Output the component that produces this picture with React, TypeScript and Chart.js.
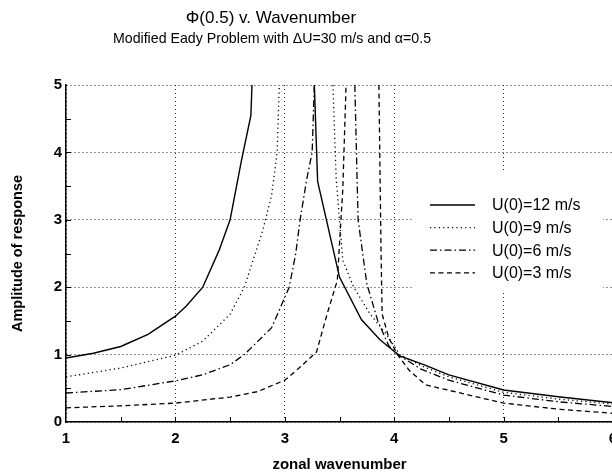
import React, { useEffect, useRef } from "react";
import { Chart, registerables } from "chart.js";

Chart.register(...registerables);

const titleText = "Φ(0.5) v. Wavenumber";
const subtitleText = "Modified Eady Problem with ΔU=30 m/s and α=0.5";
const xAxisTitle = "zonal wavenumber";
const yAxisTitle = "Amplitude of response";

const seriesLabels = ["U(0)=12 m/s", "U(0)=9 m/s", "U(0)=6 m/s", "U(0)=3 m/s"];

// U(0)=12 m/s (null = curve leaves the plot above 5)
const k12 = [1, 1.25, 1.5, 1.75, 2, 2.1, 2.25, 2.4, 2.5, 2.6, 2.69, 2.7, 3.0, 3.27, 3.3, 3.5, 3.7, 3.87, 4.05, 4.27, 4.5, 5, 5.5, 6];
const amp12 = [0.95, 1.02, 1.12, 1.3, 1.57, 1.72, 2.0, 2.55, 3.0, 3.85, 4.55, 5, null, 5, 3.57, 2.15, 1.52, 1.22, 0.98, 0.85, 0.7, 0.475, 0.375, 0.285];

// U(0)=9 m/s
const k9 = [1, 1.5, 2, 2.25, 2.5, 2.63, 2.8, 2.88, 2.93, 2.95, 3.2, 3.44, 3.47, 3.5, 3.53, 3.63, 3.78, 3.93, 4.05, 4.27, 4.5, 5, 5.5, 6];
const amp9 = [0.67, 0.8, 0.99, 1.2, 1.6, 2.0, 2.85, 3.37, 4.0, 5, null, 5, 3.6, 3.0, 2.4, 2.0, 1.6, 1.3, 1.0, 0.82, 0.67, 0.44, 0.34, 0.265];

// U(0)=6 m/s
const k6 = [1, 1.5, 2, 2.25, 2.5, 2.63, 2.88, 3.04, 3.1, 3.14, 3.2, 3.25, 3.27, 3.45, 3.64, 3.67, 3.75, 3.85, 3.95, 4.05, 4.25, 4.5, 5, 5.5, 6];
const amp6 = [0.43, 0.48, 0.61, 0.7, 0.85, 1.0, 1.4, 2.0, 2.5, 3.0, 3.6, 4.0, 5, null, 5, 3.0, 2.05, 1.5, 1.13, 0.98, 0.78, 0.62, 0.4, 0.3, 0.23];

// U(0)=3 m/s
const k3 = [1, 1.5, 2, 2.5, 2.75, 3.0, 3.13, 3.29, 3.39, 3.48, 3.53, 3.56, 3.7, 3.86, 3.88, 3.89, 3.95, 4.03, 4.14, 4.29, 4.5, 5, 5.5, 6];
const amp3 = [0.21, 0.24, 0.28, 0.37, 0.45, 0.62, 0.8, 1.04, 1.62, 2.1, 3.45, 5, null, 5, 2.5, 1.6, 1.25, 1.0, 0.76, 0.55, 0.47, 0.28, 0.19, 0.13];

const xTicks = { min: 1, max: 6, step: 1 };
const yTicks = { min: 0, max: 5, step: 1 };
const xMinorTicks = [1.5, 2, 2.5, 3, 3.5, 4, 4.5, 5, 5.5];
const yMinorTicks = [0.5, 1, 1.5, 2, 2.5, 3, 3.5, 4, 4.5];

const FONT = "'Liberation Sans', Arial, Helvetica, sans-serif";

const toPoints = (xs: number[], ys: (number | null)[]) =>
  xs.map((x, i) => ({ x, y: ys[i] }));

const dashes = [[], [1.2, 3.2], [7, 3, 1.5, 3], [5, 3.5]];

export default function App() {
  const ref = useRef<HTMLCanvasElement | null>(null);

  useEffect(() => {
    if (!ref.current) return;
    const series = [
      toPoints(k12, amp12),
      toPoints(k9, amp9),
      toPoints(k6, amp6),
      toPoints(k3, amp3),
    ];

    const overlay = {
      id: "overlay",
      afterDraw(chart: any) {
        const ctx = chart.ctx;
        const xs = chart.scales.x;
        const ys = chart.scales.y;
        const area = chart.chartArea;
        ctx.save();
        // minor inward ticks
        ctx.strokeStyle = "#000";
        ctx.lineWidth = 1;
        ctx.setLineDash([]);
        ctx.beginPath();
        xMinorTicks.forEach((v) => {
          const px = Math.round(xs.getPixelForValue(v)) + 0.5;
          ctx.moveTo(px, area.bottom);
          ctx.lineTo(px, area.bottom - 5);
        });
        yMinorTicks.forEach((v) => {
          const py = Math.round(ys.getPixelForValue(v)) + 0.5;
          ctx.moveTo(area.left, py);
          ctx.lineTo(area.left + 5, py);
        });
        ctx.stroke();

        // titles
        ctx.fillStyle = "#000";
        ctx.textAlign = "center";
        ctx.textBaseline = "middle";
        ctx.font = `17px ${FONT}`;
        ctx.fillText(titleText, 271, 18);
        ctx.font = `14.2px ${FONT}`;
        ctx.fillText(subtitleText, 272, 39);

        // legend box (white background hides the grid)
        ctx.fillStyle = "#fff";
        ctx.fillRect(412, 172, 191, 120);
        ctx.fillStyle = "#000";
        chart.data.datasets.forEach((ds: any, i: number) => {
          const y = 205 + i * 22.6;
          ctx.save();
          ctx.strokeStyle = "#000";
          ctx.lineWidth = ds.borderWidth;
          ctx.setLineDash(ds.borderDash || []);
          ctx.beginPath();
          ctx.moveTo(430, y);
          ctx.lineTo(475, y);
          ctx.stroke();
          ctx.restore();
          ctx.textAlign = "left";
          ctx.font = `16px ${FONT}`;
          ctx.fillText(ds.label, 492, y + 1);
        });
        ctx.restore();
      },
    };

    const chart = new Chart(ref.current, {
      type: "line",
      data: {
        datasets: series.map((pts, i) => ({
          label: seriesLabels[i],
          data: pts,
          borderColor: "#000",
          borderWidth: i === 0 ? 1.4 : 1.3,
          borderDash: dashes[i],
          pointRadius: 0,
          tension: 0,
          fill: false,
          spanGaps: false,
        })),
      },
      options: {
        responsive: false,
        devicePixelRatio: 1,
        animation: false,
        layout: { padding: { top: 85, right: 17, left: 0, bottom: 0 } },
        plugins: {
          legend: { display: false },
          title: { display: false },
          tooltip: { enabled: false },
        },
        scales: {
          x: {
            type: "linear",
            min: xTicks.min,
            max: xTicks.max,
            afterFit: (s: any) => {
              s.height = 51;
            },
            ticks: {
              stepSize: xTicks.step,
              color: "#000",
              padding: 8,
              font: { family: FONT, size: 15, weight: "bold" },
            },
            grid: { color: "rgba(0,0,0,0.85)", lineWidth: 1, drawTicks: false },
            border: { display: true, color: "#000", width: 1.5, dash: [1, 3] },
            title: {
              display: true,
              text: xAxisTitle,
              color: "#000",
              font: { family: FONT, size: 15, weight: "bold", lineHeight: 1.1 },
              padding: { top: 0, bottom: 0 },
            },
          },
          y: {
            type: "linear",
            min: yTicks.min,
            max: yTicks.max,
            afterFit: (s: any) => {
              s.width = 66;
            },
            ticks: {
              stepSize: yTicks.step,
              color: "#000",
              padding: 4,
              font: { family: FONT, size: 15, weight: "bold" },
            },
            grid: { color: "rgba(0,0,0,0.85)", lineWidth: 1, drawTicks: false },
            border: { display: true, color: "#000", width: 1.5, dash: [1, 3] },
            title: {
              display: true,
              text: yAxisTitle,
              color: "#000",
              font: { family: FONT, size: 14.5, weight: "bold", lineHeight: 1.2 },
              padding: { top: 9, bottom: 0 },
            },
          },
        },
      },
      plugins: [overlay],
    });
    return () => chart.destroy();
  }, []);

  return (
    <div
      style={{
        position: "fixed",
        left: 0,
        top: 0,
        width: 612,
        height: 473,
        overflow: "hidden",
        background: "#fff",
      }}
    >
      <canvas ref={ref} width={630} height={473} style={{ display: "block" }} />
    </div>
  );
}
